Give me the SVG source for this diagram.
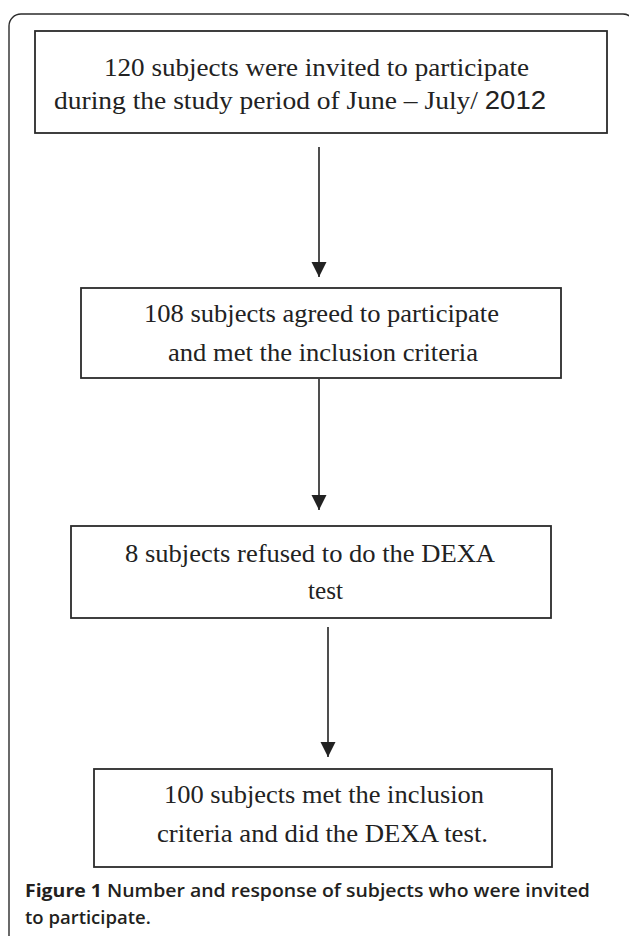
<svg xmlns="http://www.w3.org/2000/svg" width="629" height="936" viewBox="0 0 629 936">
<defs>
<style>
.frame{fill:none;stroke:#2b2b2b;stroke-width:1.4}
.box{fill:#fff;stroke:#2b2b2b;stroke-width:1.8}
.t{font-family:"Liberation Serif","Times New Roman",serif;font-size:26px;fill:#222}
.sans{font-family:"Liberation Sans",Arial,sans-serif}
.edge{stroke:#222;stroke-width:1.6;fill:none;marker-end:url(#arr)}
.cap{font-family:"Open Sans","Noto Sans",sans-serif;font-size:18.5px;fill:#231f20;font-weight:600}
.capb{font-weight:700}
</style>
<marker id="arr" markerUnits="userSpaceOnUse" markerWidth="16" markerHeight="16" refX="15" refY="7.5" orient="auto">
<path d="M0,0 L15,7.5 L0,15 Z" fill="#222"/>
</marker>
</defs>
<rect width="629" height="936" fill="#fff"/>
<rect class="frame" x="9" y="14" width="626" height="1000" rx="12" ry="12"/>
<g id="connectors">
<line class="edge" x1="319" y1="147" x2="319" y2="277"/>
<line class="edge" x1="319" y1="379" x2="319" y2="510"/>
<line class="edge" x1="328" y1="627" x2="328" y2="757"/>
</g>
<g id="node1">
<rect class="box" x="35" y="31" width="572" height="102"/>
<text class="t" x="104" y="76" textLength="425" lengthAdjust="spacingAndGlyphs">120 subjects were invited to participate</text>
<text class="t" x="54" y="109" textLength="492" lengthAdjust="spacingAndGlyphs">during the study period of June – July/ <tspan class="sans">2012</tspan></text>
</g>
<g id="node2">
<rect class="box" x="81" y="288" width="480" height="90"/>
<text class="t" x="144" y="322" textLength="355" lengthAdjust="spacingAndGlyphs">108 subjects agreed to participate</text>
<text class="t" x="168" y="361" textLength="310" lengthAdjust="spacingAndGlyphs">and met the inclusion criteria</text>
</g>
<g id="node3">
<rect class="box" x="71" y="526" width="480" height="92"/>
<text class="t" x="125" y="562" textLength="370" lengthAdjust="spacingAndGlyphs">8 subjects refused to do the DEXA</text>
<text class="t" x="308" y="599" textLength="35" lengthAdjust="spacingAndGlyphs">test</text>
</g>
<g id="node4">
<rect class="box" x="94" y="769" width="458" height="98"/>
<text class="t" x="164" y="803" textLength="320" lengthAdjust="spacingAndGlyphs">100 subjects met the inclusion</text>
<text class="t" x="157" y="842" textLength="331" lengthAdjust="spacingAndGlyphs">criteria and did the DEXA test.</text>
</g>
<g id="caption">
<text class="cap" x="25" y="897" textLength="565" lengthAdjust="spacingAndGlyphs"><tspan class="capb">Figure 1</tspan> Number and response of subjects who were invited</text>
<text class="cap" x="25" y="924">to participate.</text>
</g>
</svg>
